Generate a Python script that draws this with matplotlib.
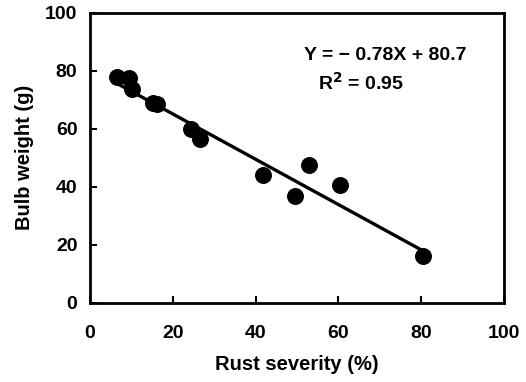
import matplotlib
matplotlib.use('Agg')
import matplotlib.pyplot as plt
import numpy as np

plt.rcParams['font.family'] = ['Liberation Sans', 'DejaVu Sans']

# rust severity (%) vs bulb weight (g)
severity = [6.5, 9.4, 10.1, 15.2, 16.1, 24.3, 26.5, 41.7, 49.6, 52.8, 60.5, 80.5]
weight = [77.9, 77.6, 73.8, 69.0, 68.6, 60.0, 56.6, 44.1, 36.9, 47.6, 40.7, 16.2]

slope = -0.78
intercept = 80.7
fit_x = [6.0, 80.0]

fig = plt.figure(figsize=(5.26, 3.82), dpi=100)
ax = fig.add_axes([0.171, 0.207, 0.787, 0.76])

ax.scatter(severity, weight, s=125, color='black', zorder=3)
fx = np.array(fit_x)
ax.plot(fx, slope * fx + intercept, color='black', lw=2.4)

ax.set_xlim(0, 100)
ax.set_ylim(0, 100)
ax.set_xticks(range(0, 101, 20))
ax.set_yticks(range(0, 101, 20))
ax.tick_params(direction='in', length=5, width=1.5, labelsize=14, pad=9)
ax.tick_params(axis='x', pad=16)
for lbl in ax.get_xticklabels() + ax.get_yticklabels():
    lbl.set_fontweight('bold')
for s in ax.spines.values():
    s.set_linewidth(2)

ax.set_xlabel('Rust severity (%)', fontsize=14.5, fontweight='bold', labelpad=9)
ax.set_ylabel('Bulb weight (g)', fontsize=14.5, fontweight='bold', labelpad=8)

ax.text(51.8, 83.8, 'Y = \u2212 0.78X + 80.7', fontsize=14, fontweight='bold')
ax.text(55, 73.4, 'R$^\\mathbf{2}$ = 0.95', fontsize=14, fontweight='bold')

fig.savefig('out.png', dpi=100)
